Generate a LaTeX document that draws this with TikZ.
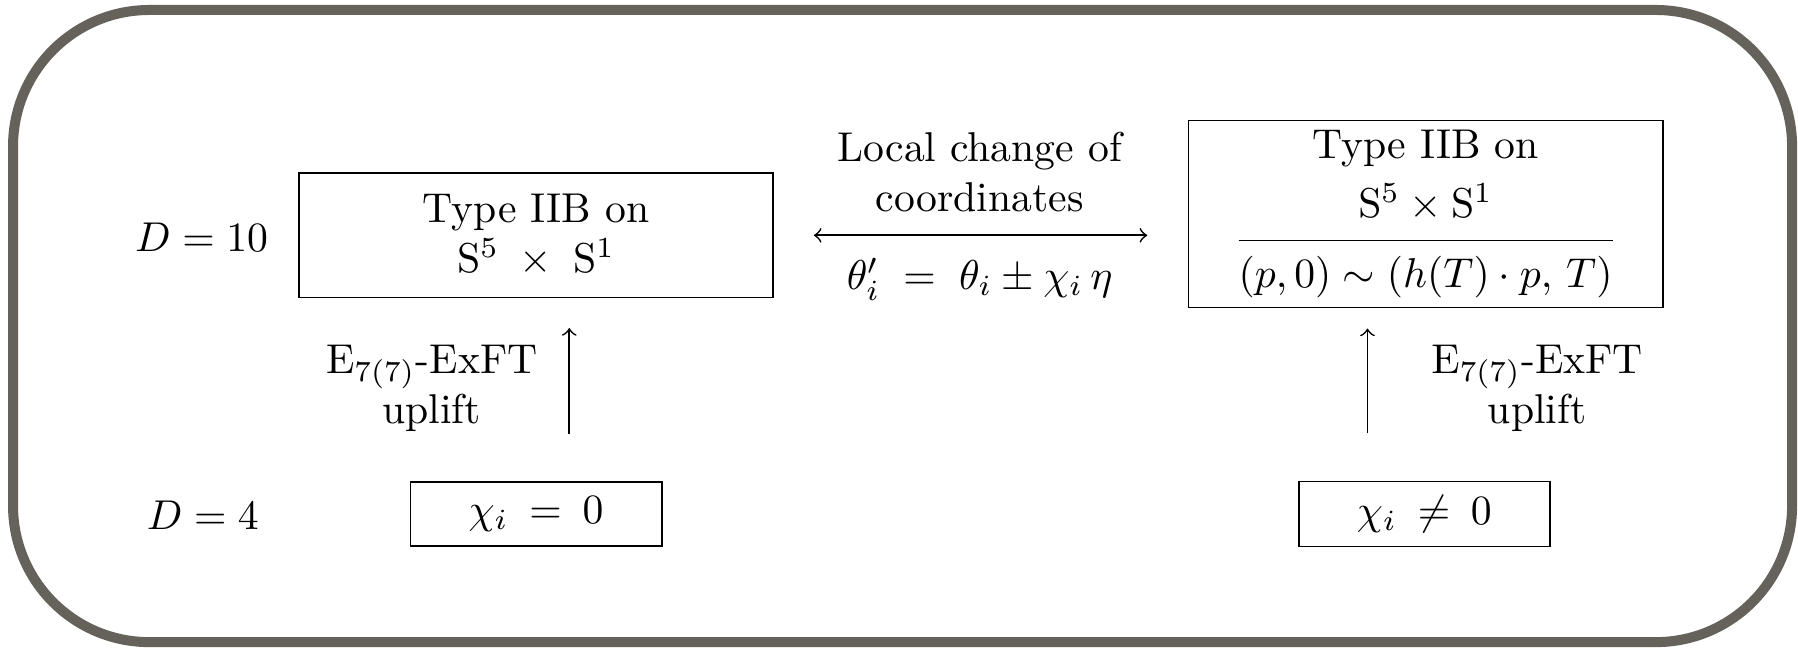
\documentclass[tikz,border=0pt]{standalone}
\usepackage{amsmath}
\usetikzlibrary{calc}
\definecolor{framegray}{HTML}{65615B}

\begin{document}
\begin{tikzpicture}[
    frame/.style={framegray, line width=2.4pt, rounded corners=1.15cm},
    theory/.style={draw, thin, minimum width=4cm, align=center},
    seed/.style={draw, thin, minimum width=2.12cm, minimum height=0.54cm},
    lbl/.style={align=center},
    uplift/.style={->, thin},
    dual/.style={<->, thin}
]

% Canvas
\def\W{15.16}
\def\H{5.464}
\useasboundingbox (0,0) rectangle (\W,\H);

% Outer frame
\draw[frame] (0.11,0.05) rectangle (15.11,5.38);

% ============================================================
% D = 10 row
% ============================================================
\node[lbl] (dten) at (1.70,3.46) {$D=10$};

\node[theory, minimum height=1.05cm] (iibL) at (4.52,3.48)
    {Type IIB on\\$\mathrm{S}^5\;\times\;\mathrm{S}^1$};

\node[theory, inner ysep=2.3pt] (iibR) at (12.02,3.66)
    {Type IIB on\\[3pt]$\dfrac{\mathrm{S}^5\times\mathrm{S}^1\rule[-4.1pt]{0pt}{0pt}}
     {\rule{0pt}{9.9pt}(p,0)\sim(h(T)\cdot p,\,T)}$};

% Local change of coordinates
\node[lbl] (lcc) at (8.26,4.01) {Local change of\\coordinates};
\node[lbl] (shift) at (8.26,3.11) {$\theta'_i\;=\;\theta_i\pm\chi_i\,\eta$};
\draw[dual, shorten <=0.335cm, shorten >=0.34cm] (iibL.east) -- (iibL.east -| iibR.west);

% ============================================================
% D = 4 row
% ============================================================
\node[lbl] (dfour) at (1.71,1.12) {$D=4$};
\node[seed] (chiZ) at (4.52,1.13) {$\chi_i\:=\:0$};
\node[seed] (chiN) at (12.01,1.13) {$\chi_i\:\neq\:0$};

% Uplift arrows
\coordinate (upLa) at ($(chiZ.north)+(0.28,0.40)$);
\coordinate (upLb) at (upLa |- {$(iibL.south)+(0,-0.25)$});
\coordinate (upRa) at ($(chiN.north)+(-0.48,0.40)$);
\coordinate (upRb) at (upRa |- {$(iibR.south)+(0,-0.17)$});
\draw[uplift] (upLa) -- (upLb);
\draw[uplift] (upRa) -- (upRb);

\node[lbl] (exftL) at (3.64,2.19) {$\mathrm{E}_{7(7)}$-ExFT\\uplift};
\node[lbl] (exftR) at (12.96,2.19) {$\mathrm{E}_{7(7)}$-ExFT\\uplift};
\end{tikzpicture}
\end{document}
